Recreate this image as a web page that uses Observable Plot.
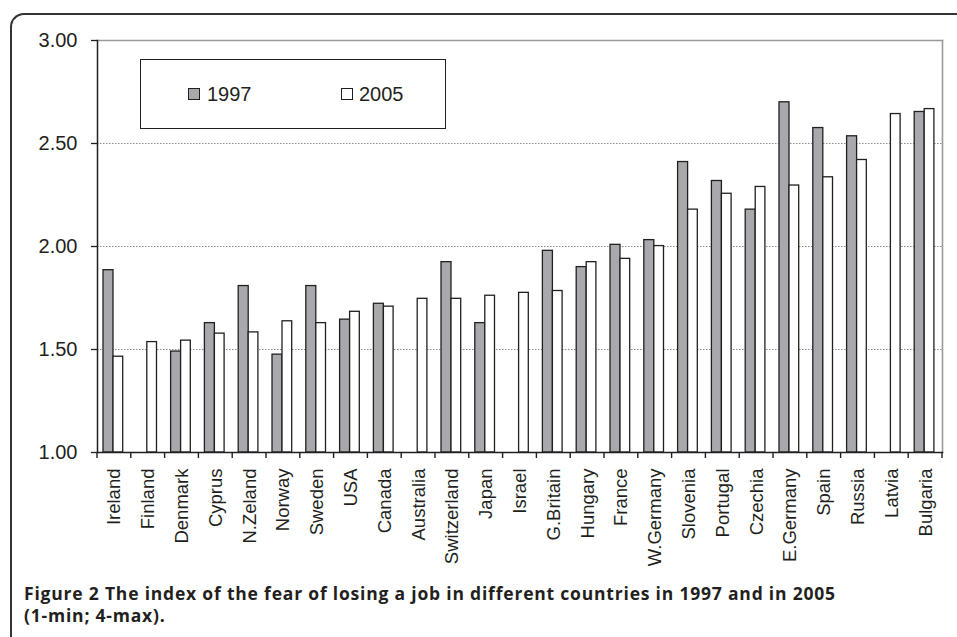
<!DOCTYPE html>
<html><head><meta charset="utf-8">
<script src="https://cdn.jsdelivr.net/npm/d3@7"></script>
<script src="https://cdn.jsdelivr.net/npm/@observablehq/plot@0.6"></script>
<style>
body{margin:0;background:#fff;}
#wrap{position:relative;width:957px;height:637px;overflow:hidden;font-family:"Liberation Sans",Arial,sans-serif;color:#231f20;background:#fff;}
#frame{position:absolute;left:10px;top:13px;width:1000px;height:700px;border-left:2px solid #333;border-top:2px solid #333;border-top-left-radius:14px;box-sizing:border-box;}
#chart{position:absolute;left:0;top:0;}
#legend{position:absolute;left:140px;top:59px;width:306px;height:70px;border:1.6px solid #231f20;background:#fff;box-sizing:border-box;}
.sw{position:absolute;width:12px;height:12px;border:1.4px solid #231f20;box-sizing:border-box;}
.lt{position:absolute;font-size:20px;line-height:20px;white-space:nowrap;}
#caption{position:absolute;left:24px;top:582px;font-family:"Open Sans",sans-serif;font-weight:700;font-size:17.5px;letter-spacing:0.8px;line-height:22px;color:#231f20;white-space:nowrap;}
</style>
</head><body>
<div id="wrap">
  <div id="frame"></div>
  <div id="chart"></div>
  <div id="legend">
    <div class="sw" style="left:47px;top:28px;background:#a7a9ac;"></div>
    <div class="lt" style="left:66px;top:24px;">1997</div>
    <div class="sw" style="left:200px;top:28px;background:#fff;"></div>
    <div class="lt" style="left:218px;top:24px;">2005</div>
  </div>
  <div id="caption">Figure 2 The index of the fear of losing a job in different countries in 1997 and in 2005<br>(1-min; 4-max).</div>
</div>
<script>
const countries = ["Ireland","Finland","Denmark","Cyprus","N.Zeland","Norway","Sweden","USA","Canada","Australia","Switzerland","Japan","Israel","G.Britain","Hungary","France","W.Germany","Slovenia","Portugal","Czechia","E.Germany","Spain","Russia","Latvia","Bulgaria"];
const v1997 = [1.885,null,1.49,1.628,1.808,1.475,1.808,1.645,1.722,null,1.924,1.628,null,1.979,1.900,2.008,2.031,2.410,2.318,2.179,2.700,2.575,2.535,null,2.653];
const v2005 = [1.465,1.536,1.543,1.577,1.583,1.637,1.628,1.683,1.708,1.746,1.746,1.761,1.775,1.784,1.924,1.940,2.002,2.179,2.256,2.289,2.296,2.336,2.420,2.643,2.667];
const yTicks = [1, 1.5, 2, 2.5, 3];
const gridTicks = [1.5, 2, 2.5];
const seriesNames = ["1997", "2005"];

const d97 = countries.map((c, i) => ({country: c, value: v1997[i]})).filter(d => d.value != null);
const d05 = countries.map((c, i) => ({country: c, value: v2005[i]})).filter(d => d.value != null);

const W = 957, H = 578, mL = 97, mR = 15, mT = 40, mB = 126;
const bw = (W - mL - mR) / countries.length;
const ink = "#231f20";

const chart = Plot.plot({
  width: W, height: H,
  marginLeft: mL, marginRight: mR, marginTop: mT, marginBottom: mB,
  style: {fontFamily: '"Liberation Sans", Arial, sans-serif', color: ink, background: "transparent", overflow: "visible"},
  x: {type: "band", domain: countries, padding: 0, round: false, label: null},
  y: {domain: [1, 3], label: null},
  marks: [
    Plot.ruleY(gridTicks, {stroke: "#8a8a8a", strokeDasharray: "1.5,1.5", strokeWidth: 1}),
    Plot.frame({anchor: "top", stroke: "#9a9a9a", strokeWidth: 1.6}),
    Plot.frame({anchor: "right", stroke: "#9a9a9a", strokeWidth: 1.6}),
    Plot.barY(d97, {x: "country", y1: 1, y2: "value", fill: "#a7a9ac", stroke: ink, strokeWidth: 1.3, insetLeft: 6, insetRight: bw - 16}),
    Plot.barY(d05, {x: "country", y1: 1, y2: "value", fill: "#ffffff", stroke: ink, strokeWidth: 1.3, insetLeft: 16, insetRight: bw - 25.7}),
    Plot.frame({anchor: "left", stroke: ink, strokeWidth: 1.5}),
    Plot.frame({anchor: "bottom", stroke: ink, strokeWidth: 1.5}),
    Plot.barY(countries, {x: d => d, y1: 1, y2: 1, insetBottom: -6, insetLeft: -0.7, insetRight: bw - 0.7, fill: ink}),
    Plot.barY(countries.slice(-1), {x: d => d, y1: 1, y2: 1, insetBottom: -6, insetLeft: bw - 0.7, insetRight: -0.7, fill: ink}),
    Plot.axisY({ticks: yTicks, tickFormat: d3.format(".2f"), tickSize: 6, tickPadding: 14, fontSize: 20, strokeWidth: 1.3, label: null}),
    Plot.axisX({tickSize: 0, tickRotate: -90, tickPadding: 16, fontSize: 18.5, label: null})
  ]
});
document.getElementById("chart").appendChild(chart);
</script>
</body></html>
